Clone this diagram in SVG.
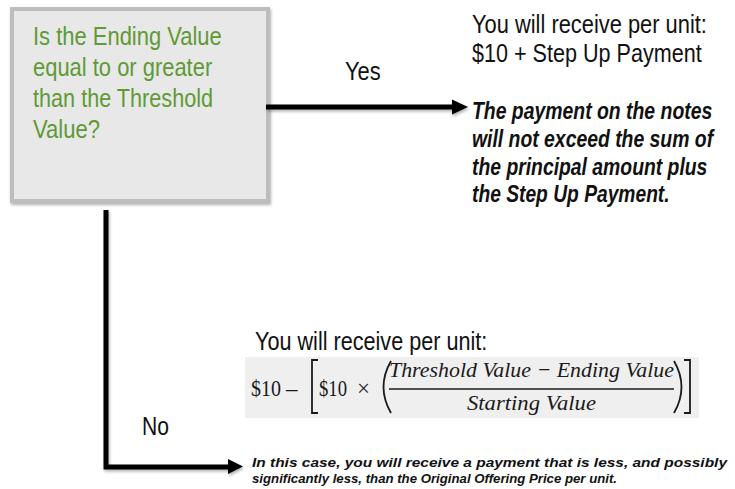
<svg xmlns="http://www.w3.org/2000/svg" width="735" height="489" viewBox="0 0 735 489">
  <style>
    .q { font-family: "Liberation Sans", Arial, sans-serif; font-size: 25px; fill: #5f9a35; }
    .t { font-family: "Liberation Sans", Arial, sans-serif; font-size: 25px; fill: #111; }
    .bi { font-family: "Liberation Sans", Arial, sans-serif; font-size: 23px; font-weight: bold; font-style: italic; fill: #111; }
    .sm { font-family: "Liberation Sans", Arial, sans-serif; font-size: 13.5px; font-weight: bold; font-style: italic; fill: #111; }
    .m { font-family: "Liberation Serif", "Times New Roman", serif; font-size: 23px; fill: #1a1a1a; }
    .mi { font-family: "Liberation Serif", "Times New Roman", serif; font-size: 22px; font-style: italic; fill: #1a1a1a; }
    .conn { fill: none; stroke: #000; stroke-width: 5; }
    .head { fill: #000; }
    .delim { fill: none; stroke: #1a1a1a; stroke-width: 1.8; }
  </style>
  <defs>
    <filter id="sh" x="-10%" y="-10%" width="130%" height="130%">
      <feDropShadow dx="1" dy="2" stdDeviation="1.5" flood-color="#000" flood-opacity="0.3"/>
    </filter>
  </defs>
  <rect width="735" height="489" fill="#fff"/>

  <g id="question">
    <rect x="12" y="9" width="256" height="192" fill="#e8e8e8" stroke="#bdbdbd" stroke-width="4" filter="url(#sh)"/>
    <text class="q" transform="translate(33 45) scale(0.87 1)" textLength="217" lengthAdjust="spacingAndGlyphs">Is the Ending Value</text>
    <text class="q" transform="translate(33 76) scale(0.87 1)" textLength="206" lengthAdjust="spacingAndGlyphs">equal to or greater</text>
    <text class="q" transform="translate(33 107) scale(0.87 1)" textLength="207" lengthAdjust="spacingAndGlyphs">than the Threshold</text>
    <text class="q" transform="translate(33 138) scale(0.87 1)" textLength="77" lengthAdjust="spacingAndGlyphs">Value?</text>
  </g>

  <g id="connectors">
    <g filter="url(#sh)">
      <path class="conn" d="M266 107 H454"/>
      <polygon class="head" points="452,99.5 468,107 452,114.5"/>
      <path class="conn" d="M106 210 V467 H230"/>
      <polygon class="head" points="228,459 243,466.5 228,474"/>
    </g>
    <text class="t" transform="translate(345 80) scale(0.87 1)" textLength="41" lengthAdjust="spacingAndGlyphs">Yes</text>
    <text class="t" transform="translate(142 435) scale(0.87 1)" textLength="31" lengthAdjust="spacingAndGlyphs">No</text>
  </g>

  <g id="yes-result">
    <text class="t" transform="translate(472 33) scale(0.87 1)" textLength="270" lengthAdjust="spacingAndGlyphs">You will receive per unit:</text>
    <text class="t" transform="translate(472 62) scale(0.87 1)" textLength="264" lengthAdjust="spacingAndGlyphs">$10 + Step Up Payment</text>
    <text class="bi" transform="translate(472 119) scale(0.82 1)" textLength="293" lengthAdjust="spacingAndGlyphs">The payment on the notes</text>
    <text class="bi" transform="translate(472 147) scale(0.82 1)" textLength="294" lengthAdjust="spacingAndGlyphs">will not exceed the sum of</text>
    <text class="bi" transform="translate(472 175) scale(0.82 1)" textLength="287" lengthAdjust="spacingAndGlyphs">the principal amount plus</text>
    <text class="bi" transform="translate(472 202) scale(0.82 1)" textLength="241" lengthAdjust="spacingAndGlyphs">the Step Up Payment.</text>
  </g>

  <g id="no-result">
    <text class="t" transform="translate(255 350) scale(0.87 1)" textLength="267" lengthAdjust="spacingAndGlyphs">You will receive per unit:</text>
    <rect x="245" y="357" width="454" height="61" fill="#efefef"/>
    <text class="m" x="251" y="396" textLength="30" lengthAdjust="spacingAndGlyphs">$10</text>
    <text class="m" x="286" y="396">–</text>
    <path class="delim" d="M318 360 H312 V413 H318"/>
    <text class="m" x="319" y="396" textLength="28" lengthAdjust="spacingAndGlyphs">$10</text>
    <text class="m" x="357" y="396">×</text>
    <path class="delim" d="M391 361 Q376 387 391 413"/>
    <text class="mi" x="389" y="377" textLength="285" lengthAdjust="spacingAndGlyphs">Threshold Value − Ending Value</text>
    <line x1="389" y1="389" x2="674" y2="389" stroke="#1a1a1a" stroke-width="1.3"/>
    <text class="mi" x="467" y="410" textLength="129" lengthAdjust="spacingAndGlyphs">Starting Value</text>
    <path class="delim" d="M674 361 Q689 387 674 413"/>
    <path class="delim" d="M684 360 H690 V413 H684"/>
    <text class="sm" x="252" y="467" textLength="475" lengthAdjust="spacingAndGlyphs">In this case,  you will receive a payment that is less,  and possibly</text>
    <text class="sm" x="252" y="483" textLength="365" lengthAdjust="spacingAndGlyphs">significantly less,  than the Original Offering Price per unit.</text>
  </g>
</svg>
